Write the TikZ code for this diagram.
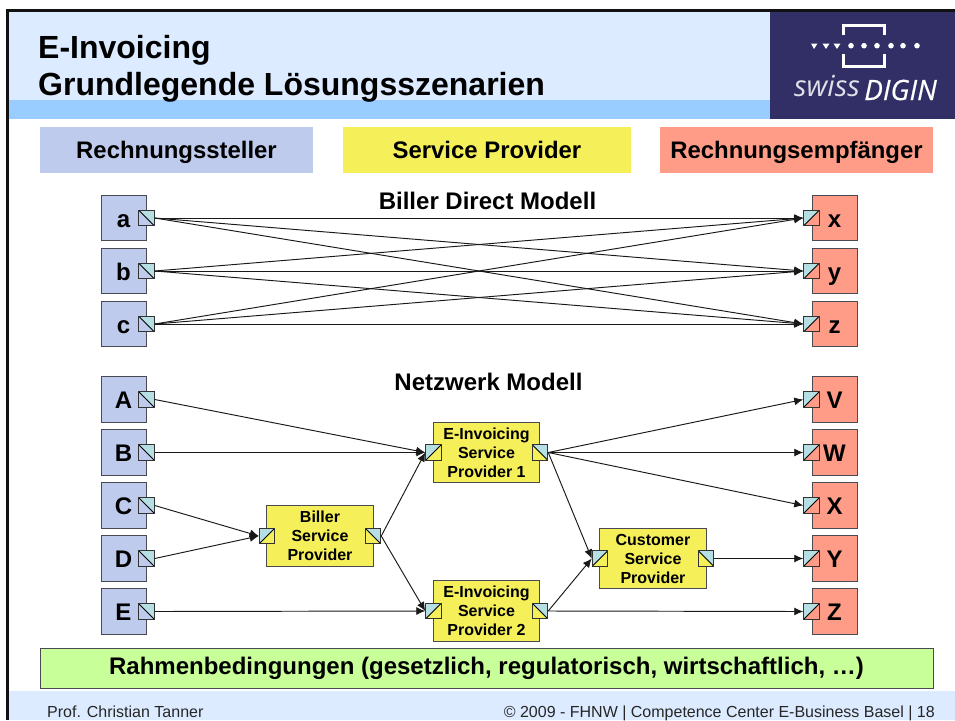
\documentclass[tikz,border=0pt]{standalone}
\usepackage{fontspec}
\setmainfont{Liberation Sans}
\newfontfamily\logofont{Open Sans}
\usetikzlibrary{arrows.meta}
\definecolor{bandlight}{HTML}{DCEBFF}
\definecolor{banddark}{HTML}{99CCFF}
\definecolor{logoblue}{HTML}{312F66}
\definecolor{billerblue}{HTML}{BFCBEC}
\definecolor{provyellow}{HTML}{F5F05A}
\definecolor{recvred}{HTML}{FF9C88}
\definecolor{frameblack}{HTML}{111111}
\definecolor{greenbar}{HTML}{C9FF99}
\definecolor{portteal}{HTML}{B5DFE3}
\definecolor{boxedge}{HTML}{4A4A55}
\tikzset{
  x=1pt,y=-1pt,
  boxbase/.style={draw=boxedge,line width=1pt,inner sep=0pt,align=center,font=\bfseries},
  partybox/.style={boxbase,minimum width=45pt,minimum height=45.5pt,text height=18pt,text depth=0pt,font=\fontsize{24}{24}\selectfont\bfseries},
  leftbox/.style={partybox,fill=billerblue},
  rightbox/.style={partybox,fill=recvred},
  spbox/.style={boxbase,fill=provyellow,minimum width=106.5pt,minimum height=60.5pt,font=\fontsize{16}{19}\selectfont\bfseries},
  header/.style={inner sep=0pt,minimum height=46pt,text height=20pt,text depth=3pt,font=\fontsize{23.9}{24}\selectfont\bfseries},
  section/.style={inner sep=0pt,font=\fontsize{24}{24}\selectfont\bfseries},
  footertext/.style={inner sep=0pt,font=\fontsize{16}{18}\selectfont,text=black!85},
  titletext/.style={inner sep=0pt,anchor=base west,font=\fontsize{32}{34}\selectfont\bfseries},
  port/.style={draw=black!80,line width=1pt,fill=#1,minimum size=15.5pt,inner sep=0pt},
  portout/.style={port=#1,path picture={
    \fill[portteal] (path picture bounding box.north west)--(path picture bounding box.north east)--(path picture bounding box.south east)--cycle;
    \draw[black,line width=.9pt] (path picture bounding box.north west)--(path picture bounding box.south east);}},
  portin/.style={port=#1,path picture={
    \fill[portteal] (path picture bounding box.north west)--(path picture bounding box.north east)--(path picture bounding box.south west)--cycle;
    \draw[black,line width=.9pt] (path picture bounding box.south west)--(path picture bounding box.north east);}},
  link/.style={draw=black!90,line width=.95pt,-{Latex[length=9pt,width=8pt]},shorten >=0pt},
}
\begin{document}
\begin{tikzpicture}
\useasboundingbox (0,0) rectangle (955,720);
\fill[white] (0,0) rectangle (955,720);
% bands
\fill[bandlight] (8,12) rectangle (770,100);
\fill[banddark] (8,100) rectangle (770,119);
\fill[bandlight] (9,691) rectangle (955,720);
\fill[logoblue] (770,12) rectangle (955,119);
\fill[frameblack] (6,9) rectangle (955,12);
\fill[frameblack] (6,9) rectangle (9,720);
% logo
\draw[white,line width=3pt] (843.5,35) -- (843.5,25) -- (884,25) -- (884,35);
\draw[white,line width=3pt] (843.5,54) -- (843.5,66) -- (884,66) -- (884,54);
\foreach \px in {851,864,877,891,903,917} \fill[white] (\px,45.7) circle (2.8pt);
\fill[white] (811,43.5) -- (817.5,43.5) -- (814,49) -- cycle;
\fill[white] (822.5,43.5) -- (829.5,43.5) -- (826,49) -- cycle;
\fill[white] (833.5,43.5) -- (840.5,43.5) -- (837,49) -- cycle;
\node[inner sep=0pt,anchor=base west,text=white!85!logoblue] (logoa) at (794,96) {\logofont\fontsize{29}{30}\selectfont\itshape swiss};
\node[inner sep=0pt,anchor=base west,text=white] (logob) at (864,100) {\logofont\fontsize{28}{30}\selectfont\itshape\addfontfeature{FakeBold=0.5} DIGIN};
% title
\node[titletext] (t1) at (38,58) {E-Invoicing};
\node[titletext] (t2) at (38,95) {Grundlegende Lösungsszenarien};
% headers
\node[header,fill=billerblue,minimum width=273pt] (h1) at (176.5,150) {Rechnungssteller};
\node[header,fill=provyellow,minimum width=288pt] (h2) at (487,150) {Service Provider};
\node[header,fill=recvred,minimum width=273pt] (h3) at (796.5,150) {Rechnungsempfänger};
\node[section] (s1) at (487.5,201) {Biller Direct Modell};
\node[section] (s2) at (488.5,382) {Netzwerk Modell};
% direct model
\foreach \n/\cy/\lab in {a/218/a,b/271/b,c/324/c} {
  \node[leftbox] (\n) at (123.5,\cy) {\lab};
  \node[portout=billerblue] (p\n) at (146.5,\cy) {};
}
\foreach \n/\cy/\lab in {x/218/x,y/271/y,z/324/z} {
  \node[rightbox] (\n) at (834.5,\cy) {\lab};
  \node[portin=recvred] (p\n) at (811.5,\cy) {};
}
\foreach \s in {a,b,c} \foreach \t in {x,y,z}
  \draw[link] (p\s.east) -- (p\t.west);
% network model
\foreach \n/\cy/\lab in {nA/399.5/A,nB/452.5/B,nC/505.5/C,nD/558.5/D,nE/611.5/E} {
  \node[leftbox] (\n) at (123.5,\cy) {\lab};
  \node[portout=billerblue] (p\n) at (146.5,\cy) {};
}
\foreach \n/\cy/\lab in {nV/399.5/V,nW/452.5/W,nX/505.5/X,nY/558.5/Y,nZ/611.5/Z} {
  \node[rightbox] (\n) at (834.5,\cy) {\lab};
  \node[portin=recvred] (p\n) at (811.5,\cy) {};
}
\node[spbox] (bsp) at (320,536) {Biller\\Service\\Provider};
\node[portin=provyellow] (bspi) at (267,536) {};
\node[portout=provyellow] (bspo) at (373,536) {};
\node[spbox] (e1) at (486.5,452.5) {E-Invoicing\\Service\\Provider 1};
\node[portin=provyellow] (e1i) at (433.5,452.5) {};
\node[portout=provyellow] (e1o) at (540,452.5) {};
\node[spbox] (e2) at (486.5,611) {E-Invoicing\\Service\\Provider 2};
\node[portin=provyellow] (e2i) at (433.5,611) {};
\node[portout=provyellow] (e2o) at (540,611) {};
\node[spbox] (csp) at (653,558.5) {Customer\\Service\\Provider};
\node[portin=provyellow] (cspi) at (600,558.5) {};
\node[portout=provyellow] (cspo) at (706,558.5) {};
\draw[link] (pnA.east) -- (e1i.west);
\draw[link] (pnB.east) -- (e1i.west);
\draw[link] (pnC.east) -- (bspi.west);
\draw[link] (pnD.east) -- (bspi.west);
\draw[link] (pnE.east) -- (e2i.west);
\draw[link] (bspo.east) -- (e1i.west);
\draw[link] (bspo.east) -- (e2i.west);
\draw[link] (e1o.east) -- (pnV.west);
\draw[link] (e1o.east) -- (pnW.west);
\draw[link] (e1o.east) -- (pnX.west);
\draw[link] (e1o.east) -- (cspi.west);
\draw[link] (e2o.east) -- (cspi.west);
\draw[link] (e2o.east) -- (pnZ.west);
\draw[link] (cspo.east) -- (pnY.west);
% bottom bar
\node[draw=boxedge,line width=1pt,fill=greenbar,minimum width=893pt,minimum height=39.5pt,inner sep=0pt,font=\fontsize{24}{24}\selectfont\bfseries] (rb) at (486.5,668.7) {Rahmenbedingungen (gesetzlich, regulatorisch, wirtschaftlich, …)};
% footer
\node[footertext,anchor=base west] (f1) at (47,717) {Prof. Christian Tanner};
\node[footertext,anchor=base east] (f2) at (935,717) {© 2009 - FHNW | Competence Center E-Business Basel | 18};
\end{tikzpicture}
\end{document}
